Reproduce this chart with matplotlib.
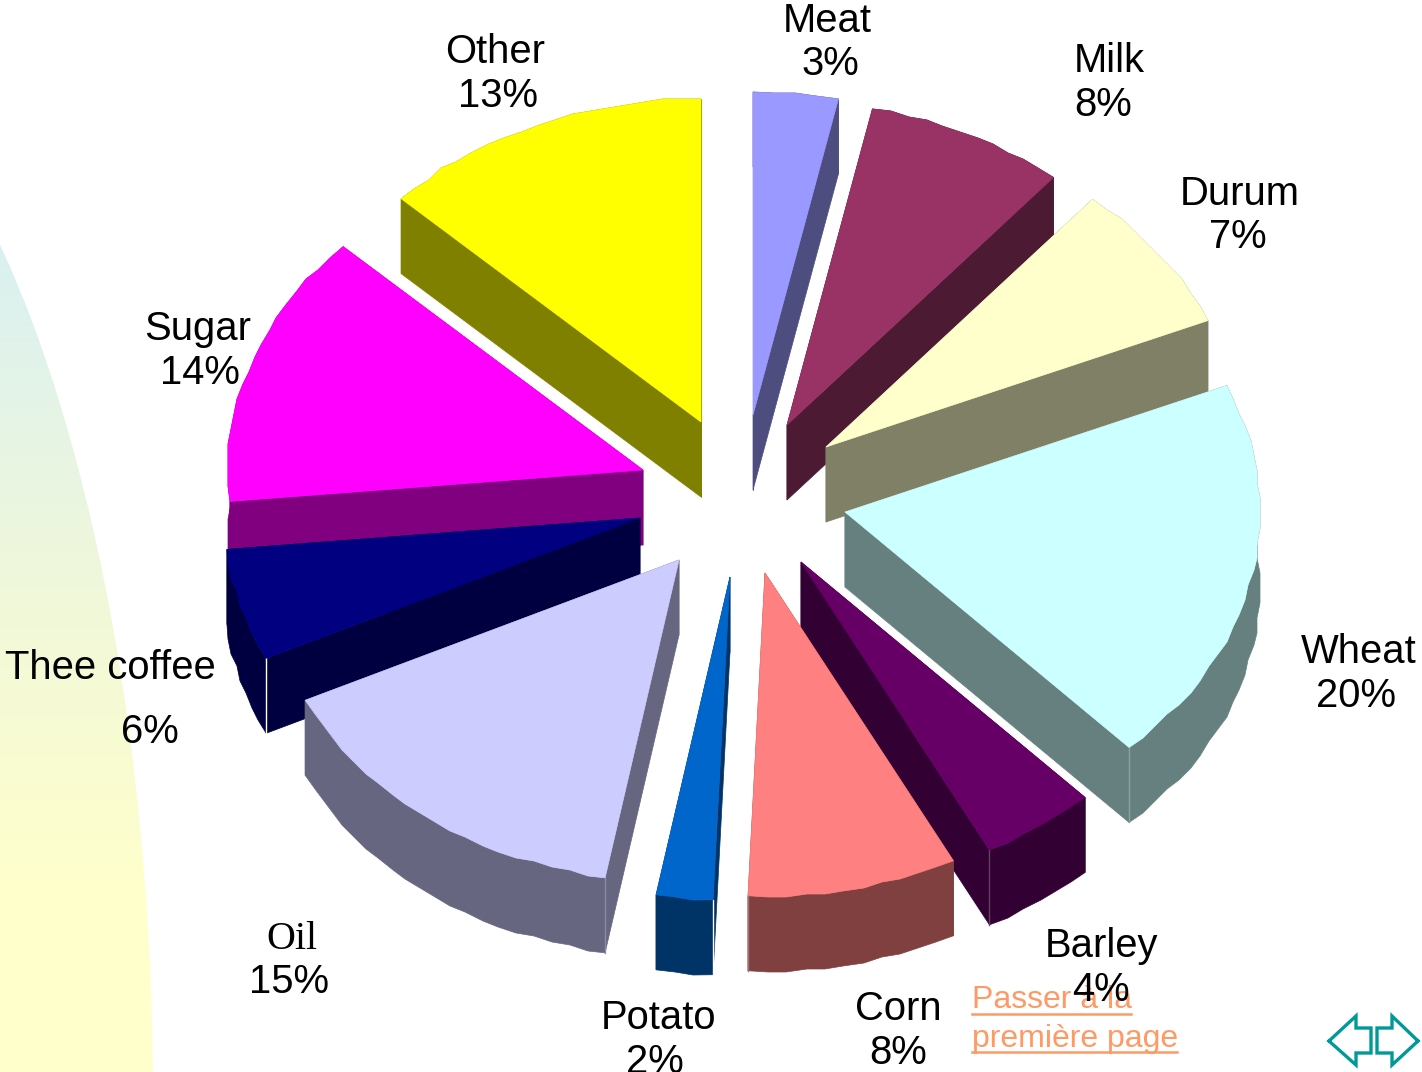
import numpy as np
import matplotlib
matplotlib.use("Agg")
import matplotlib.pyplot as plt
from matplotlib.colors import LinearSegmentedColormap, to_hex, to_rgb
from matplotlib.patches import Ellipse

# Data (clockwise from 12 o'clock)
names = ["Meat", "Milk", "Durum", "Wheat", "Barley", "Corn", "Potato", "Oil", "Thee coffee", "Sugar", "Other"]
shares = [3.3, 7.8, 7.5, 19.4, 4.5, 8.15, 2.2, 15.0, 5.6, 13.7, 12.85]
percent_labels = ["3%", "8%", "7%", "20%", "4%", "8%", "2%", "15%", "6%", "14%", "13%"]

top_colors = ["#9999FF", "#993366", "#FFFFCC", "#CCFFFF", "#660066", "#FF8080", "#0066CC", "#CCCCFF", "#000080", "#FF00FF", "#FFFF00"]
side_colors = ["#4D4D80", "#4D1A33", "#808066", "#668080", "#330033", "#804040", "#003366", "#666680", "#000040", "#800080", "#808000"]

# Layout in pixels: where each exploded slice has its tip
tip_x = [753, 787, 826, 845, 801, 765, 730, 679, 640, 643, 701]
tip_y = [415, 425, 447, 512, 562, 573, 577, 560, 518, 470, 422]
rx, ry = 415, 323
depth = 75
step = 3  # the rim in the reference is stair-stepped, snap to this grid

# baseline positions of the two label lines
name_x = [827, 1109, 1240, 1359, 1101, 898, 659, 292, 110, 198, 495]
name_y = [32, 72, 205, 663, 957, 1020, 1029, 949, 679, 340, 63]
pct_x = [830, 1103, 1238, 1356, 1101, 898, 655, 289, 150, 200, 498]
pct_y = [75, 116, 248, 707, 1001, 1064, 1073, 993, 743, 384, 107]

fig = plt.figure(figsize=(14.22, 10.72), dpi=100)
ax = fig.add_axes([0, 0, 1, 1])

# background arc with the vertical gradient
cmap = LinearSegmentedColormap.from_list("bg", ["#D8F0F3", "#EEF7DC", "#FFFFCC"])
grad = np.clip((np.arange(1072) - 220) / 660, 0, 1).reshape(-1, 1)
im = ax.imshow(grad, cmap=cmap, extent=[0, 1422, 1072, 0], aspect="auto", zorder=0)
arc = Ellipse((-259, 1100), 824, 2200, transform=ax.transData, facecolor="none", edgecolor="none")
ax.add_patch(arc)
im.set_clip_path(arc)

ax.set_xlim(0, 1422)
ax.set_ylim(1072, 0)
ax.axis("off")

# angles of each slice
edges = np.cumsum([0] + shares) / sum(shares) * 2 * np.pi
mids = (edges[:-1] + edges[1:]) / 2

# paint back to front
order = np.argsort(-np.cos(mids))
z = 2
for i in order:
    t0, t1 = edges[i], edges[i + 1]
    n = max(int(np.degrees(t1 - t0) / 2.5), 2)
    t = np.linspace(t0, t1, n + 1)
    x = tip_x[i] + rx * np.sin(t)
    y = tip_y[i] - ry * np.cos(t)
    x[1:-1] = np.round(x[1:-1] / step) * step
    y[1:-1] = np.round(y[1:-1] / step) * step

    side = side_colors[i]
    # rim wall
    ax.fill(np.r_[x, x[::-1]], np.r_[y, y[::-1] + depth], color=side, lw=0.5, zorder=z)
    # the two straight walls
    for j in [0, -1]:
        ax.fill([tip_x[i], x[j], x[j], tip_x[i]], [tip_y[i], y[j], y[j] + depth, tip_y[i] + depth],
                color=side, lw=0.5, zorder=z)
    # pale line where the wall meets the rim at the front
    if np.pi / 2 < t1 < np.pi * 1.02 or np.pi < mids[i] < np.pi * 1.5:
        j = -1 if mids[i] < np.pi else 0
        pale = "white" if i in (6, 8) else to_hex(0.75 * np.array(to_rgb(side)) + 0.25)
        ax.plot([x[j], x[j]], [y[j], y[j] + depth], color=pale, lw=1, zorder=z + 0.5)
    # top face
    ax.fill(np.r_[tip_x[i], x], np.r_[tip_y[i], y], color=top_colors[i], lw=0.5, zorder=z + 1)
    z += 2

# link text goes under the chart labels
link = "#FF9966"
ax.text(972, 1008, "Passer à la", family="Liberation Sans", fontsize=23, color=link, zorder=40)
ax.text(972, 1047, "première page", family="Liberation Sans", fontsize=23, color=link, zorder=40)
ax.plot([972, 1131], [1013.5, 1013.5], color=link, lw=1.8, zorder=40)
ax.plot([972, 1177], [1052, 1052], color=link, lw=1.8, zorder=40)

# slice labels
for i in range(len(names)):
    fam = "Liberation Serif" if names[i] == "Oil" else "Liberation Sans"
    ax.text(name_x[i], name_y[i], names[i], family=fam, fontsize=28.8, ha="center", va="baseline", zorder=50)
    ax.text(pct_x[i], pct_y[i], percent_labels[i], family="Liberation Sans", fontsize=28.8,
            ha="center", va="baseline", zorder=50)

# navigation arrows
left_x = [1329, 1356, 1356, 1371, 1371, 1356, 1356, 1329]
left_y = [1041, 1016, 1028, 1028, 1053, 1053, 1065, 1041]
right_x = [1418, 1392, 1392, 1377, 1377, 1392, 1392, 1418]
ax.plot(left_x, left_y, color="#009999", lw=2.4, solid_joinstyle="miter", zorder=50)
ax.plot(right_x, left_y, color="#009999", lw=2.4, solid_joinstyle="miter", zorder=50)

fig.savefig("out.png", dpi=100)
